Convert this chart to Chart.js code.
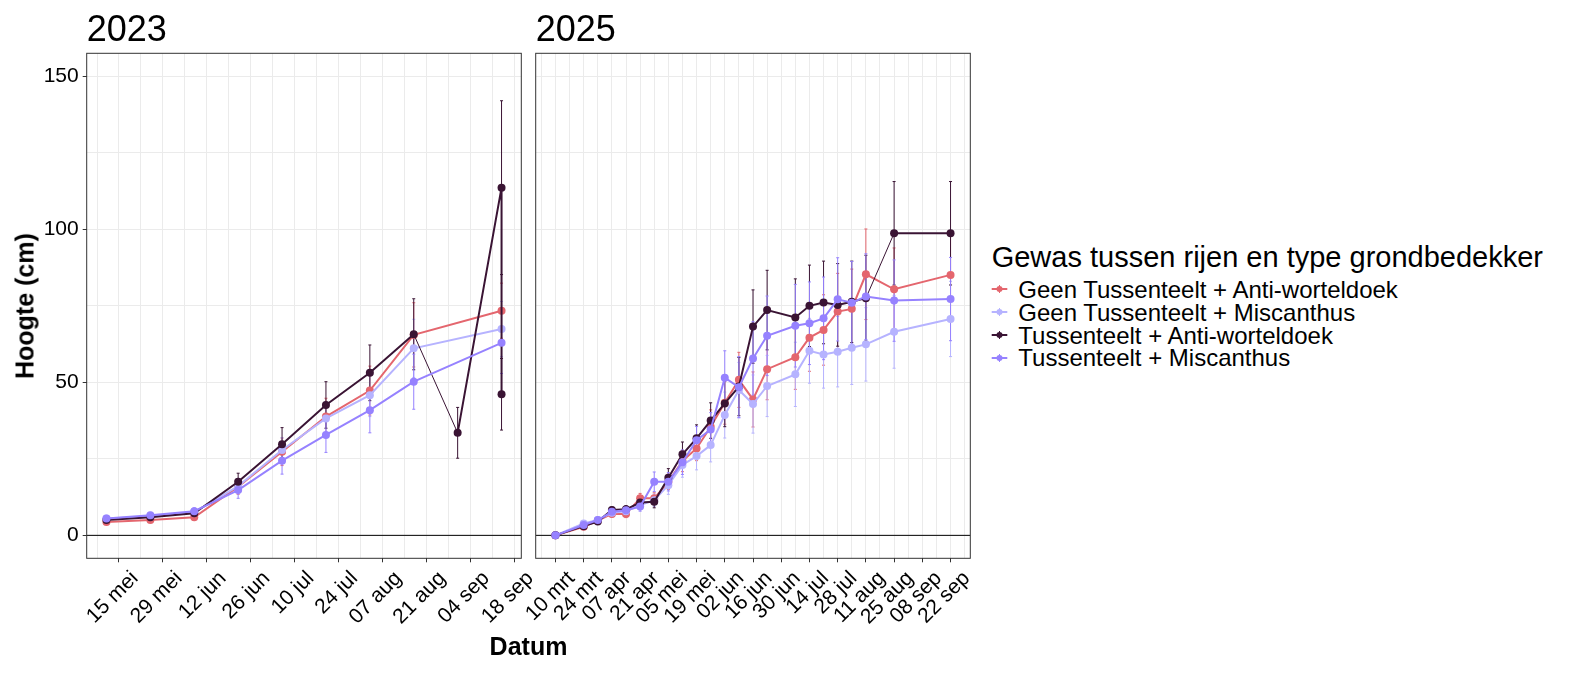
<!DOCTYPE html>
<html>
<head>
<meta charset="utf-8">
<script src="https://cdn.jsdelivr.net/npm/chart.js@4.4.1/dist/chart.umd.min.js"></script>
<style>
  html, body { margin: 0; padding: 0; background: #fff; }
  body { width: 1574px; height: 674px; position: relative; overflow: hidden;
         font-family: "Liberation Sans", Arial, sans-serif; color: #000; }
  canvas { position: absolute; top: 0; }
  .txt { position: absolute; white-space: nowrap; line-height: 1; }
  .strip { font-size: 36px; top: 11.2px; }
  .axtitle { font-size: 25px; font-weight: bold; }
  #legend .title { font-size: 29px; left: 991.7px; top: 242.8px; }
  #legend .item { font-size: 24px; left: 1018.3px; }
  #legend svg { position: absolute; left: 990px; }
</style>
</head>
<body>
<canvas id="c2023" width="540" height="674" style="left:0px"></canvas>
<canvas id="c2025" width="540" height="674" style="left:440px"></canvas>

<div class="txt strip" style="left:86.7px">2023</div>
<div class="txt strip" style="left:535.7px">2025</div>
<div class="txt axtitle" style="left:528.5px; top:633.8px; transform:translateX(-50%)">Datum</div>
<div class="txt axtitle" style="left:24.6px; top:305.8px; transform:translate(-50%,-50%) rotate(-90deg)">Hoogte (cm)</div>
<div id="legend"><div class="txt title">Gewas tussen rijen en type grondbedekker</div></div>

<script>
/* ─── Series ─────────────────────────────────────────────────── */
const seriesNames = [
  'Geen Tussenteelt + Anti-worteldoek',
  'Geen Tussenteelt + Miscanthus',
  'Tussenteelt + Anti-worteldoek',
  'Tussenteelt + Miscanthus'
];
const seriesColors = ['#E4666E', '#B6B3FF', '#3A1434', '#9682FF'];

/* ─── 2023 ───────────────────────────────────────────────────── */
const dates2023 = ['2023-05-11','2023-05-25','2023-06-08','2023-06-22','2023-07-06',
                   '2023-07-20','2023-08-03','2023-08-17','2023-09-14'];
const datesDark2023 = ['2023-05-11','2023-05-25','2023-06-08','2023-06-22','2023-07-06',
                       '2023-07-20','2023-08-03','2023-08-17','2023-08-31','2023-09-14','2023-09-14'];

const red2023    = [4.4, 5.0, 5.9, 15.9, 27.3, 38.8, 47.3, 65.5, 73.4];
const light2023  = [5.5, 6.1, 7.6, 16.1, 27.9, 38.2, 45.8, 61.1, 67.4];
const dark2023   = [5.0, 5.9, 7.2, 17.5, 29.8, 42.6, 53.1, 65.7, 33.5, 113.6, 46.1];
const medium2023 = [5.5, 6.6, 7.9, 14.8, 24.4, 32.8, 40.9, 50.2, 62.9];

const redErr2023    = [0.8, 0.8, 1.0, 2.5, 4.5, 6.0, 8.0, 10.5, 9.0];
const lightErr2023  = [0.8, 0.9, 1.0, 2.5, 4.0, 5.5, 7.0, 9.5, 9.0];
const darkErr2023   = [0.8, 0.9, 1.0, 2.8, 5.4, 7.6, 9.1, 11.6, 8.3, 28.4, 11.7];
const mediumErr2023 = [0.8, 0.9, 1.1, 2.7, 4.4, 5.7, 7.4, 9.0, 10.0];

/* ─── 2025 ───────────────────────────────────────────────────── */
const dates2025 = ['2025-03-10','2025-03-24','2025-03-31','2025-04-07','2025-04-14','2025-04-21',
                   '2025-04-28','2025-05-05','2025-05-12','2025-05-19','2025-05-26','2025-06-02',
                   '2025-06-09','2025-06-16','2025-06-23','2025-07-07','2025-07-14','2025-07-21',
                   '2025-07-28','2025-08-04','2025-08-11','2025-08-25','2025-09-22'];

const red2025    = [0, 2.8, 4.8, 7.0, 7.0, 12.1, 12.1, 17.5, 24.3, 28.4, 35.5, 43.3,
                    50.8, 44.4, 54.3, 58.2, 64.6, 67.1, 73.1, 74.0, 85.3, 80.4, 85.1];
const light2025  = [0, 3.9, 5.0, 7.4, 7.9, 9.9, 11.5, 16.4, 23.0, 25.9, 29.5, 39.3,
                    47.5, 42.9, 48.8, 52.6, 60.3, 59.1, 60.0, 61.3, 62.4, 66.5, 70.7];
const dark2025   = [0, 3.0, 4.5, 8.3, 8.5, 10.7, 11.0, 18.8, 26.5, 31.7, 37.5, 43.1,
                    48.6, 68.2, 73.6, 71.2, 75.0, 76.1, 75.3, 76.3, 77.5, 98.7, 98.7];
const medium2025 = [0, 3.4, 5.0, 7.7, 8.2, 9.4, 17.5, 17.5, 23.9, 31.1, 34.6, 51.5,
                    48.4, 57.8, 65.2, 68.5, 69.3, 70.9, 77.1, 76.0, 78.0, 76.7, 77.2];

const redErr2025    = [0, 0.5, 0.8, 1.0, 1.2, 1.6, 1.8, 2.5, 3.5, 4.0, 5.5, 7.0,
                       9.0, 9.0, 10.0, 10.5, 11.0, 11.5, 12.5, 13.0, 14.8, 13.5, 14.0];
const lightErr2025  = [0, 0.6, 0.8, 1.0, 1.2, 1.5, 2.0, 3.0, 4.0, 4.5, 5.5, 7.5,
                       9.0, 9.5, 10.0, 10.5, 10.6, 11.0, 11.5, 12.0, 12.0, 11.9, 12.3];
const darkErr2025   = [0, 0.5, 0.8, 1.0, 1.2, 1.5, 2.0, 3.0, 4.0, 4.4, 5.8, 7.6,
                       9.5, 12.0, 13.0, 12.6, 13.3, 13.5, 13.5, 13.3, 14.0, 16.9, 16.9];
const mediumErr2025 = [0, 0.6, 0.8, 1.0, 1.2, 1.5, 3.2, 3.0, 4.0, 4.5, 5.5, 8.8,
                       10.0, 12.0, 13.0, 13.5, 13.5, 13.5, 13.6, 13.5, 14.0, 13.3, 13.6];

/* ─── Axes ───────────────────────────────────────────────────── */
const ticks2023 = ['2023-05-15','2023-05-29','2023-06-12','2023-06-26','2023-07-10',
                   '2023-07-24','2023-08-07','2023-08-21','2023-09-04','2023-09-18'];
const ticks2025 = ['2025-03-10','2025-03-24','2025-04-07','2025-04-21','2025-05-05',
                   '2025-05-19','2025-06-02','2025-06-16','2025-06-30','2025-07-14',
                   '2025-07-28','2025-08-11','2025-08-25','2025-09-08','2025-09-22'];
const yTicks = [0, 50, 100, 150];
const yLimits = [0, 150];
const zeroLine = 0;
const monthNames = ['jan','feb','mrt','apr','mei','jun','jul','aug','sep','okt','nov','dec'];

/* ─── Helpers ────────────────────────────────────────────────── */
const DAY = 86400000;
const FONT = '"Liberation Sans", Arial, sans-serif';
const toDay = s => Date.UTC(+s.slice(0, 4), +s.slice(5, 7) - 1, +s.slice(8, 10)) / DAY;
const fmtDay = d => {
  const t = new Date(Math.round(d) * DAY);
  return String(t.getUTCDate()).padStart(2, '0') + ' ' + monthNames[t.getUTCMonth()];
};

// majors plus a minor halfway between each pair (ggplot style), kept within range
function makeTicks(majors, min, max) {
  const step = majors[1] - majors[0];
  const out = [];
  majors.forEach(m => {
    out.push({ value: m, isMajor: true });
    out.push({ value: m - step / 2, isMajor: false });
  });
  out.push({ value: majors[majors.length - 1] + step / 2, isMajor: false });
  return out.filter(t => t.value >= min && t.value <= max).sort((a, b) => a.value - b.value);
}

const expand = (lo, hi) => [lo - (hi - lo) * 0.05, hi + (hi - lo) * 0.05];
const yRange = expand(yLimits[0], yLimits[1]);

Chart.defaults.font.family = FONT;

/* error bars + y=0 line under the data, panel border on top */
const panelPlugin = {
  id: 'panel',
  beforeDatasetsDraw(chart) {
    const { ctx, chartArea: a, scales: { x, y } } = chart;
    ctx.save();
    ctx.beginPath();
    ctx.rect(a.left, a.top, a.width, a.height);
    ctx.clip();
    const y0 = y.getPixelForValue(zeroLine);
    ctx.strokeStyle = '#000';
    ctx.lineWidth = 1;
    ctx.beginPath();
    ctx.moveTo(a.left, y0);
    ctx.lineTo(a.right, y0);
    ctx.stroke();
    chart.data.datasets.forEach(ds => {
      ctx.strokeStyle = ds.borderColor;
      ctx.lineWidth = 1;
      ds.data.forEach(p => {
        if (!p.err) return;
        const px = x.getPixelForValue(p.x);
        const lo = y.getPixelForValue(p.y - p.err);
        const hi = y.getPixelForValue(p.y + p.err);
        ctx.beginPath();
        ctx.moveTo(px, lo); ctx.lineTo(px, hi);
        ctx.moveTo(px - 1.5, lo); ctx.lineTo(px + 1.5, lo);
        ctx.moveTo(px - 1.5, hi); ctx.lineTo(px + 1.5, hi);
        ctx.stroke();
      });
    });
    ctx.restore();
  },
  afterDraw(chart) {
    const { ctx, chartArea: a } = chart;
    ctx.save();
    ctx.strokeStyle = '#333333';
    ctx.lineWidth = 1;
    ctx.strokeRect(a.left, a.top, a.width, a.height);
    ctx.restore();
  }
};

function buildPanel(canvasId, series, tickDates, opts) {
  const allDays = series.flatMap(s => s.dates.map(toDay));
  const xRange = expand(Math.min(...allDays), Math.max(...allDays));
  const majors = tickDates.map(toDay);

  const datasets = series.map((s, k) => ({
    label: seriesNames[k],
    data: s.dates.map((d, i) => ({ x: toDay(d), y: s.values[i], err: s.errors[i] })),
    borderColor: seriesColors[k],
    backgroundColor: seriesColors[k],
    borderWidth: 2,
    pointRadius: 4,
    pointBorderWidth: 0,
    pointHoverRadius: 4,
    order: series.length - k,          // later series on top, like ggplot
    segment: {
      borderWidth: c => (s.thin || []).includes(c.p0DataIndex) ? 1 : 2
    }
  }));

  const tickMark = c => (c.tick && c.tick.isMajor) ? '#333333' : 'rgba(0,0,0,0)';

  return new Chart(document.getElementById(canvasId), {
    type: 'line',
    data: { datasets },
    plugins: [panelPlugin],
    options: {
      responsive: false,
      animation: false,
      devicePixelRatio: 1,
      events: [],
      layout: { padding: opts.padding },
      plugins: { legend: { display: false }, tooltip: { enabled: false } },
      scales: {
        x: {
          type: 'linear',
          min: xRange[0],
          max: xRange[1],
          border: { display: false },
          grid: { color: '#EBEBEB', lineWidth: 1, tickLength: 4, tickWidth: 1, tickColor: tickMark },
          ticks: {
            autoSkip: false,
            minRotation: 45,
            maxRotation: 45,
            padding: 4,
            labelOffset: 16,
            color: '#000',
            font: { size: 21 },
            callback: (v, i, t) => t[i].isMajor ? fmtDay(v) : ''
          },
          afterBuildTicks: sc => { sc.ticks = makeTicks(majors, sc.min, sc.max); },
          afterFit: sc => {
            sc.height = 674 - 558.3;
            sc.paddingLeft = 0; sc.paddingRight = 0;
          }
        },
        y: {
          type: 'linear',
          min: yRange[0],
          max: yRange[1],
          border: { display: false },
          grid: { color: '#EBEBEB', lineWidth: 1, drawTicks: opts.showY, tickLength: 4, tickWidth: 1, tickColor: tickMark },
          ticks: {
            display: opts.showY,
            padding: 4,
            color: '#000',
            font: { size: 21 },
            callback: (v, i, t) => t[i].isMajor ? String(v) : ''
          },
          afterBuildTicks: sc => { sc.ticks = makeTicks(yTicks, sc.min, sc.max); },
          afterFit: sc => {
            sc.width = opts.yWidth;
            sc.paddingTop = 0; sc.paddingBottom = 0;
          }
        }
      }
    }
  });
}

buildPanel('c2023', [
  { dates: dates2023,     values: red2023,    errors: redErr2023 },
  { dates: dates2023,     values: light2023,  errors: lightErr2023 },
  { dates: datesDark2023, values: dark2023,   errors: darkErr2023, thin: [7] },
  { dates: dates2023,     values: medium2023, errors: mediumErr2023 }
], ticks2023, { padding: { left: 0, top: 53.3, right: 18.7, bottom: 0 }, yWidth: 86.7, showY: true });

buildPanel('c2025', [
  { dates: dates2025, values: red2025,    errors: redErr2025 },
  { dates: dates2025, values: light2025,  errors: lightErr2025 },
  { dates: dates2025, values: dark2025,   errors: darkErr2025, thin: [20] },
  { dates: dates2025, values: medium2025, errors: mediumErr2025 }
], ticks2025, { padding: { left: 95.7, top: 53.3, right: 9.7, bottom: 0 }, yWidth: 0, showY: false });

/* ─── Legend ─────────────────────────────────────────────────── */
const legend = document.getElementById('legend');
seriesNames.forEach((name, k) => {
  const baseline = 298.3 + k * 22.8;
  const mid = baseline - 9;
  const c = seriesColors[k];
  legend.insertAdjacentHTML('beforeend',
    `<svg width="20" height="20" style="top:${mid - 10}px">
       <line x1="1.7" y1="10" x2="17.3" y2="10" stroke="${c}" stroke-width="2"/>
       <line x1="9.5" y1="6" x2="9.5" y2="14" stroke="${c}" stroke-width="1"/>
       <circle cx="9.5" cy="10" r="3" fill="${c}"/>
     </svg>
     <div class="txt item" style="top:${baseline - 20.3}px">${name}</div>`);
});
</script>
</body>
</html>
